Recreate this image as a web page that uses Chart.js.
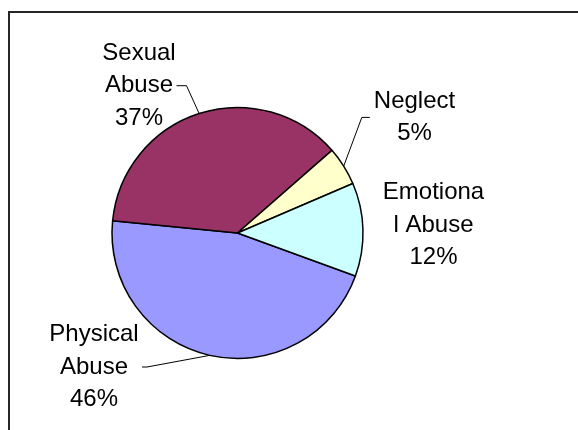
<!DOCTYPE html>
<html>
<head>
<meta charset="utf-8">
<script src="https://cdn.jsdelivr.net/npm/chart.js@4.4.1/dist/chart.umd.min.js"></script>
<style>
  html, body { margin: 0; padding: 0; background: #fff; overflow: hidden; width: 578px; height: 430px; }
  #frame { position: absolute; left: 8px; top: 11px; width: 700px; height: 600px; border: 2px solid #262626; }
  #wrap { position: absolute; left: 0; top: 0; width: 578px; height: 430px; }
</style>
</head>
<body>
<div id="frame"></div>
<div id="wrap"><canvas id="chart" width="578" height="430"></canvas></div>
<script>
// Abuse type breakdown (percent of cases)
const categories = ["Physical Abuse", "Sexual Abuse", "Neglect", "Emotional Abuse"];
const labelLines = [["Physical", "Abuse"], ["Sexual", "Abuse"], ["Neglect"], ["Emotiona", "l Abuse"]];
const values = [46, 37, 5, 12];
const colors = ["#9999FF", "#993366", "#FFFFCC", "#CCFFFF"];

// where each label block sits, relative to the pie centre, and how its leader line runs
const labelPlacement = [
  { dx: -143.5, dy: 134, leader: { side: "right", line: 1, gap: 14, elbow: 5 } },
  { dx: -98.5, dy: -147.3, leader: { side: "right", line: 1, gap: 3.5, elbow: 10 } },
  { dx: 177, dy: -115.6, leader: { side: "left", gap: 4, elbow: 8 } },
  { dx: 196, dy: -7.8, leader: null },
];

const LINE_H = 32.5;
const FONT = "24px 'Liberation Sans', Arial, sans-serif";

const outsideLabels = {
  id: "outsideLabels",
  afterDatasetsDraw(chart) {
    const ctx = chart.ctx;
    const meta = chart.getDatasetMeta(0);
    const total = values.reduce((a, b) => a + b, 0);
    ctx.save();
    ctx.font = FONT;
    ctx.fillStyle = "#000";
    ctx.textAlign = "center";
    ctx.textBaseline = "middle";
    meta.data.forEach((arc, i) => {
      const place = labelPlacement[i];
      const lines = labelLines[i].concat([Math.round(values[i] / total * 100) + "%"]);
      const cx = arc.x + place.dx;
      const top = arc.y + place.dy - (lines.length - 1) * LINE_H / 2;
      lines.forEach((t, j) => ctx.fillText(t, cx, top + j * LINE_H));

      if (!place.leader) return;
      const mid = (arc.startAngle + arc.endAngle) / 2;
      const ex = arc.x + Math.cos(mid) * arc.outerRadius;
      const ey = arc.y + Math.sin(mid) * arc.outerRadius;
      const ld = place.leader;
      let sx, sy, kx;
      if (ld.side === "right") {
        const w = ctx.measureText(lines[ld.line]).width;
        sx = cx + w / 2 + ld.gap;
        sy = top + ld.line * LINE_H;
        kx = sx + ld.elbow;
      } else {
        const w = Math.max(...lines.map((t) => ctx.measureText(t).width));
        sx = cx - w / 2 - ld.gap;
        sy = top + (lines.length - 1) * LINE_H / 2;
        kx = sx - ld.elbow;
      }
      ctx.strokeStyle = "#000";
      ctx.lineWidth = 1;
      ctx.beginPath();
      ctx.moveTo(sx, sy);
      ctx.lineTo(kx, sy);
      ctx.lineTo(ex, ey);
      ctx.stroke();
    });
    ctx.restore();
  },
};

new Chart(document.getElementById("chart"), {
  type: "pie",
  data: {
    labels: categories,
    datasets: [{ data: values, backgroundColor: colors, borderColor: "#000", borderWidth: 1.5 }],
  },
  options: {
    responsive: false,
    animation: false,
    events: [],
    rotation: 110,
    layout: { padding: { left: 111.25, top: 106.75, right: 214.25, bottom: 70.75 } },
    plugins: { legend: { display: false }, tooltip: { enabled: false } },
  },
  plugins: [outsideLabels],
});
</script>
</body>
</html>
